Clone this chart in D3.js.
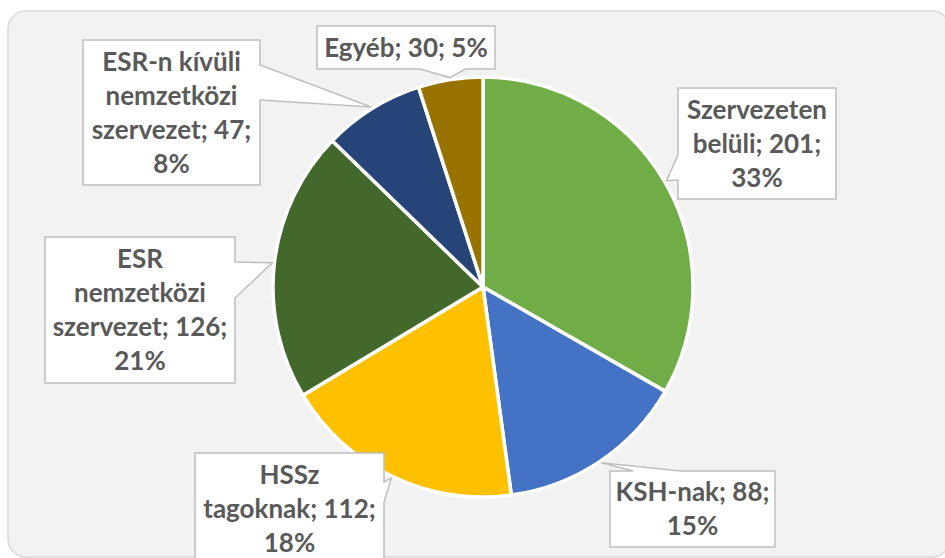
<!DOCTYPE html>
<html>
<head>
<meta charset="utf-8">
<script src="https://cdn.jsdelivr.net/npm/d3@7"></script>
<style>
  body { margin: 0; background: #fff; }
  svg { display: block; }
</style>
</head>
<body>
<div id="chart"></div>
<script>
const width = 945;
const height = 558;

// data
const categories = ["Szervezeten belüli", "KSH-nak", "HSSz tagoknak", "ESR nemzetközi szervezet", "ESR-n kívüli nemzetközi szervezet", "Egyéb"];
const values = [201, 88, 112, 126, 47, 30];
const percents = ["33%", "15%", "18%", "21%", "8%", "5%"];
const colors = ["#70ad47", "#4472c4", "#ffc000", "#43682b", "#264478", "#997300"];

// callout boxes: x, y, w, h, wrap width, side of the wedge, wedge base (along that side)
// lead = words forced onto the first line (Excel wraps narrower than Lato does)
const boxes = [
  {x: 678, y: 88, w: 158, h: 111, tw: 150, side: "left", b0: 155, b1: 180},
  {x: 610, y: 471, w: 165, h: 76, tw: 160, side: "top", b0: 633, b1: 680},
  {x: 195, y: 453, w: 189, h: 111, tw: 180, lead: 1, side: "right", b0: 482, b1: 502},
  {x: 45, y: 237, w: 190, h: 146, tw: 178, side: "right", b0: 262, b1: 298},
  {x: 83, y: 40, w: 177, h: 145, tw: 165, side: "right", b0: 65, b1: 100},
  {x: 317, y: 26, w: 178, h: 43, tw: 178, side: "bottom", b0: 420, b1: 465}
];

const cx = 483, cy = 287, radius = 210;
const lineH = 34;
const fontSize = 26;

const svg = d3.select("#chart").append("svg")
    .attr("width", width)
    .attr("height", height);

// chart area
svg.append("rect")
    .attr("x", 8).attr("y", 11)
    .attr("width", 942).attr("height", 546)
    .attr("rx", 18)
    .style("fill", "#f2f2f2")
    .style("stroke", "#d9d9d9")
    .style("stroke-width", 1.5);

const pie = d3.pie().sort(null).value(d => d);
const arcs = pie(values);
const arc = d3.arc().innerRadius(0).outerRadius(radius);

const g = svg.append("g").attr("transform", `translate(${cx},${cy})`);
g.selectAll("path")
    .data(arcs)
    .enter().append("path")
    .attr("d", arc)
    .style("fill", (d, i) => colors[i])
    .style("stroke", "#fff")
    .style("stroke-width", 3.5)
    .style("stroke-linejoin", "round");

// wedge tip sits just outside the rim, at the slice's middle angle
function tipOf(d) {
  const a = (d.startAngle + d.endAngle) / 2;
  const r = radius + 2;
  return [cx + r * Math.sin(a), cy - r * Math.cos(a)];
}

function calloutPath(b, tip) {
  const x0 = b.x, y0 = b.y, x1 = b.x + b.w, y1 = b.y + b.h;
  const p = [];
  p.push([x0, y0]);
  if (b.side === "top") { p.push([b.b0, y0], tip, [b.b1, y0]); }
  p.push([x1, y0]);
  if (b.side === "right") { p.push([x1, b.b0], tip, [x1, b.b1]); }
  p.push([x1, y1]);
  if (b.side === "bottom") { p.push([b.b1, y1], tip, [b.b0, y1]); }
  p.push([x0, y1]);
  if (b.side === "left") { p.push([x0, b.b1], tip, [x0, b.b0]); }
  return "M" + p.map(q => q.join(",")).join("L") + "Z";
}

const measure = svg.append("text")
    .style("font-family", "Lato, 'Open Sans', sans-serif")
    .style("font-weight", "bold")
    .style("font-size", fontSize + "px");

function wrap(words, maxW, lead) {
  const lines = [];
  let cur = "";
  words.forEach((w, k) => {
    const test = cur ? cur + " " + w : w;
    measure.text(test);
    const forced = lead && k === lead;
    if (cur && (forced || measure.node().getComputedTextLength() > maxW)) {
      lines.push(cur);
      cur = w;
    } else {
      cur = test;
    }
  });
  if (cur) lines.push(cur);
  return lines;
}

const labels = svg.append("g");
arcs.forEach((d, i) => {
  const b = boxes[i];
  labels.append("path")
      .attr("d", calloutPath(b, tipOf(d)))
      .style("fill", "#fff")
      .style("stroke", "#bfbfbf")
      .style("stroke-width", 1.5)
      .style("stroke-linejoin", "miter");

  const words = (categories[i] + "; " + values[i] + "; " + percents[i]).split(" ");
  const lines = wrap(words, b.tw, b.lead);
  const top = b.y + (b.h - lines.length * lineH) / 2;
  const t = labels.append("text")
      .attr("text-anchor", "middle")
      .style("font-family", "Lato, 'Open Sans', sans-serif")
      .style("font-weight", "bold")
      .style("font-size", fontSize + "px")
      .style("fill", "#595959");
  lines.forEach((l, j) => {
    t.append("tspan")
        .attr("x", b.x + b.w / 2)
        .attr("y", top + j * lineH + 26)
        .text(l);
  });
});
measure.remove();
</script>
</body>
</html>
